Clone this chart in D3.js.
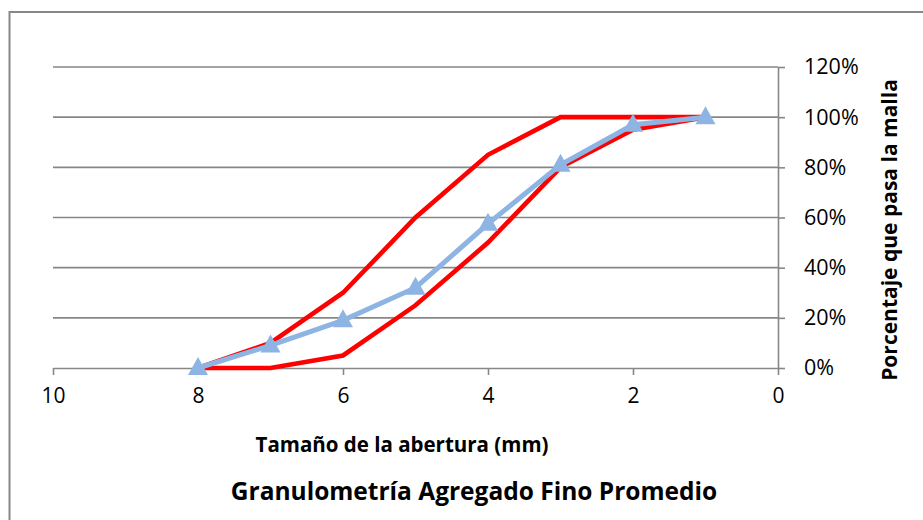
<!DOCTYPE html>
<html><head><meta charset="utf-8">
<script src="https://cdn.jsdelivr.net/npm/d3@7"></script>
<style>
body{margin:0;background:#fff;}
svg{display:block;}
text{font-family:"Open Sans",sans-serif;fill:#000;}
</style></head>
<body>
<svg id="chart" width="923" height="520"></svg>
<script>
// Data
const sizes = [8, 7, 6, 5, 4, 3, 2, 1];
const upperLimit = [0, 10, 30, 60, 85, 100, 100, 100];
const lowerLimit = [0, 0, 5, 25, 50, 80, 95, 100];
const sample = [0, 9, 19, 32, 57.5, 81, 97, 100];
const xTicks = [10, 8, 6, 4, 2, 0];
const yTicks = [0, 20, 40, 60, 80, 100, 120];
const xTitle = "Tamaño de la abertura (mm)";
const yTitle = "Porcentaje que pasa la malla";
const chartTitle = "Granulometría Agregado Fino Promedio";

const svg = d3.select("#chart");
const x = d3.scaleLinear().domain([10, 0]).range([53, 778]);
const y = d3.scaleLinear().domain([0, 120]).range([368, 67]);
const grey = "#878787";

// chart area border
svg.append("rect").attr("x", 9.5).attr("y", 12).attr("width", 1000).attr("height", 600)
  .attr("fill", "#fff").attr("stroke", grey).attr("stroke-width", 2);

// gridlines
svg.append("g").selectAll("line").data(yTicks.filter(d => d > 0)).join("line")
  .attr("x1", x(10)).attr("x2", x(0)).attr("y1", d => y(d)).attr("y2", d => y(d))
  .attr("stroke", grey).attr("stroke-width", 1.6);

// x axis
const xAxis = svg.append("g").attr("transform", `translate(0,${y(0)})`)
  .call(d3.axisBottom(x).tickValues(xTicks).tickSize(7).tickSizeOuter(0).tickPadding(13));
xAxis.select(".domain").attr("stroke", grey).attr("stroke-width", 1.6);
xAxis.selectAll(".tick line").attr("stroke", grey).attr("stroke-width", 1.6);
xAxis.selectAll(".tick text").attr("font-size", 21).attr("font-family", "Open Sans");

// y axis (right)
const yAxis = svg.append("g").attr("transform", `translate(${x(0)},0)`)
  .call(d3.axisRight(y).tickValues(yTicks).tickSize(7).tickSizeOuter(0).tickPadding(19)
    .tickFormat(d => d + "%"));
yAxis.select(".domain").attr("stroke", grey).attr("stroke-width", 1.6);
yAxis.selectAll(".tick line").attr("stroke", grey).attr("stroke-width", 1.6);
yAxis.selectAll(".tick text").attr("font-size", 21.5).attr("font-family", "Open Sans");

const line = d3.line().x(d => x(d[0])).y(d => y(d[1]));

[upperLimit, lowerLimit].forEach(s => {
  svg.append("path").datum(sizes.map((v, i) => [v, s[i]]))
    .attr("d", line).attr("fill", "none").attr("stroke", "#ff0000")
    .attr("stroke-width", 4.6).attr("stroke-linejoin", "miter");
});

const blue = "#8eb4e3";
const sampleData = sizes.map((v, i) => [v, sample[i]]);
svg.append("path").datum(sampleData).attr("d", line).attr("fill", "none")
  .attr("stroke", blue).attr("stroke-width", 5);
svg.append("g").selectAll("path").data(sampleData).join("path")
  .attr("transform", d => `translate(${x(d[0])},${y(d[1])})`)
  .attr("d", "M0,-11L10,7L-10,7Z").attr("fill", blue);

// titles
svg.append("text").attr("x", 402).attr("y", 452).attr("text-anchor", "middle")
  .attr("font-weight", "bold").attr("font-size", 20.5).text(xTitle);
svg.append("text").attr("x", 474).attr("y", 500).attr("text-anchor", "middle")
  .attr("font-weight", "bold").attr("font-size", 24.5).text(chartTitle);
svg.append("text").attr("transform", "translate(897,230) rotate(-90)")
  .attr("text-anchor", "middle").attr("font-weight", "bold").attr("font-size", 21).text(yTitle);
</script>
</body></html>
